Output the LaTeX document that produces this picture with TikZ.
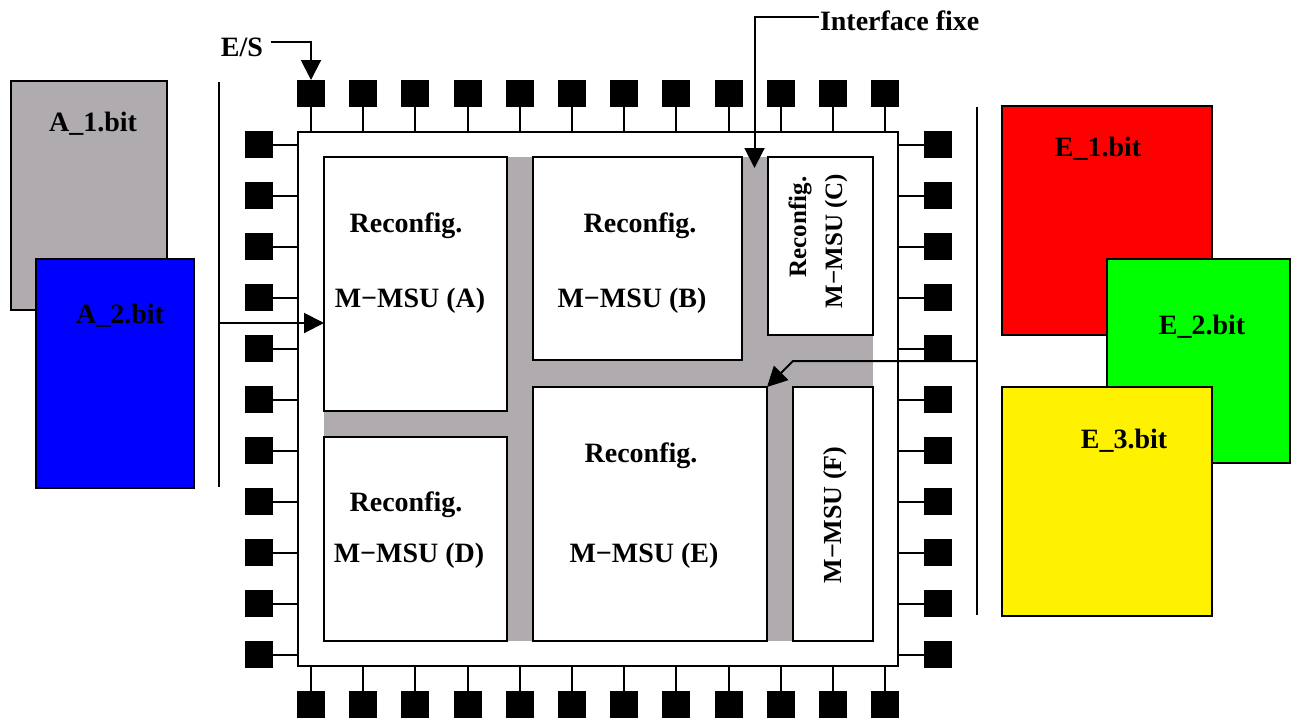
\documentclass[tikz,border=0pt]{standalone}
\usepackage{fontspec}
\setmainfont{Liberation Serif}
\usetikzlibrary{arrows.meta}

\definecolor{chipgray}{RGB}{176,171,175}

\begin{document}
\begin{tikzpicture}[x=0.5pt,y=-0.5pt,line width=1pt,font=\fontsize{14}{16}\selectfont\bfseries]
    \tikzstyle{box}=[draw,rectangle,inner sep=0pt,outer sep=0pt,anchor=north west]
    \tikzstyle{block}=[box,fill=white,line width=1.4pt]
    \tikzstyle{pad}=[fill=black,inner sep=0pt,outer sep=0pt,minimum width=14pt,minimum height=13.5pt]
    \tikzstyle{bigarrow}=[-{Triangle[length=10pt,width=10pt]}]
    \tikzstyle{small}=[font=\fontsize{12.5}{14}\selectfont\bfseries]

    \useasboundingbox (0,0) rectangle (1293,718);

    % Bit files on the left
    \node[box,fill=chipgray,minimum width=78pt,minimum height=114.5pt] (A1) at (11,81) {};
    \node[box,fill=blue,minimum width=79pt,minimum height=114.5pt] (A2) at (36,259) {};
    \node (A1-txt) at (93,124) {A\_1.bit};
    \node (A2-txt) at (120,316) {A\_2.bit};

    % Bit files on the right
    \node[box,fill=red,minimum width=105pt,minimum height=114.5pt] (E1) at (1002,106) {};
    \node[box,fill=green,minimum width=91.5pt,minimum height=102pt] (E2) at (1107,259) {};
    \node[box,fill=yellow,minimum width=105pt,minimum height=114.5pt] (E3) at (1002,387) {};
    \node (E1-txt) at (1098,149) {E\_1.bit};
    \node (E2-txt) at (1202,327) {E\_2.bit};
    \node (E3-txt) at (1124,441) {E\_3.bit};

    % The chip and its routing area
    \node[box,fill=white,minimum width=300pt,minimum height=267pt] (chip) at (298,132) {};
    \fill[chipgray] (324,157) rectangle (873,641);

    % Reconfigurable modules
    \node[block,minimum width=91.5pt,minimum height=127pt] (A) at (324,157) {};
    \node[block,minimum width=104.5pt,minimum height=101.5pt] (B) at (533,157) {};
    \node[block,minimum width=52.5pt,minimum height=89pt] (C) at (768,157) {};
    \node[block,minimum width=91.5pt,minimum height=102pt] (D) at (324,437) {};
    \node[block,minimum width=117pt,minimum height=127pt] (E) at (533,387) {};
    \node[block,minimum width=40pt,minimum height=127pt] (F) at (793,387) {};

    \node (A-cfg) at (406,226) {Reconfig.};
    \node (A-name) at (410,301) {M−MSU (A)};
    \node (B-cfg) at (640,226) {Reconfig.};
    \node (B-name) at (632,301) {M−MSU (B)};
    \node[small,rotate=90] (C-cfg) at (800,227) {Reconfig.};
    \node[small,rotate=90] (C-name) at (836,241) {M−MSU (C)};
    \node (D-cfg) at (406,505) {Reconfig.};
    \node (D-name) at (409,556) {M−MSU (D)};
    \node (E-cfg) at (641,456) {Reconfig.};
    \node (E-name) at (644,556) {M−MSU (E)};
    \node[rotate=90,font=\fontsize{13}{15}\selectfont\bfseries] (F-name) at (835,515) {M−MSU (F)};

    % I/O pads on all four sides
    \foreach \i in {0,...,11}{
        \node[pad] (T-\i) at ({311+52.2*\i},93.5) {};
        \node[pad] (B-\i) at ({311+52.2*\i},704.5) {};
        \draw (T-\i) -- (T-\i |- chip.north);
        \draw (B-\i) -- (B-\i |- chip.south);
    }
    \foreach \i in {0,...,10}{
        \node[pad] (L-\i) at (259,{144.5+51*\i}) {};
        \node[pad] (R-\i) at (938,{144.5+51*\i}) {};
        \draw (L-\i) -- (L-\i -| chip.west);
        \draw (R-\i) -- (R-\i -| chip.east);
    }

    % Loading bars
    \coordinate (barL-top) at (219,82);
    \coordinate (barL-bot) at (219,487);
    \coordinate (barR-top) at (977,107);
    \coordinate (barR-bot) at (977,615);
    \draw (barL-top) -- (barL-bot);
    \draw (barR-top) -- (barR-bot);

    \coordinate (inL) at (219,323);
    \coordinate (inR) at (977,361);
    \draw[bigarrow] (inL) -- (inL -| A.west);
    \draw[bigarrow] (inR) -- (inR -| F.west) -- (E.north east);

    % Annotations
    \node (ES) at (242,47) {E/S};
    \draw[bigarrow] ([yshift=2.5pt]ES.east) -| (T-0.north);

    \node[anchor=west,inner sep=0pt] (IF) at (819,21) {Interface fixe};
    \coordinate (fix) at (754.5,168);
    \draw[bigarrow] ([yshift=2pt]IF.west) -| (fix);

\end{tikzpicture}
\end{document}
